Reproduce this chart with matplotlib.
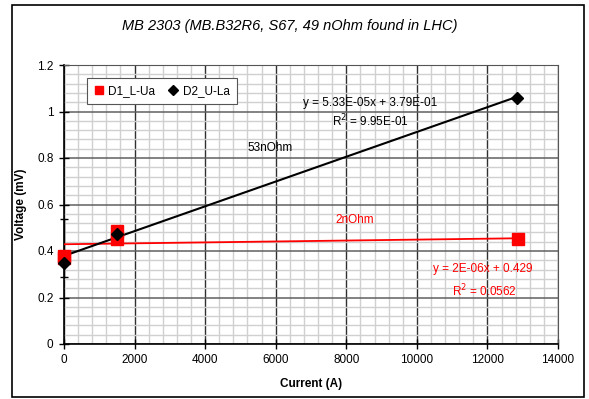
import numpy as np
import matplotlib
matplotlib.use("Agg")
import matplotlib.pyplot as plt
from matplotlib.patches import Rectangle
from matplotlib.ticker import MultipleLocator

plt.rcParams['font.family'] = ['Liberation Sans', 'DejaVu Sans']

# data
d1_x = [0, 0, 1500, 1500, 12880]
d1_y = [0.37, 0.38, 0.485, 0.45, 0.452]
d2_x = [0, 1500, 12850]
d2_y = [0.35, 0.475, 1.06]

# trendline coefficients as printed on the chart
d1_fit = (2e-06, 0.429)
d2_fit = (5.33e-05, 0.379)

# the small error bar on the axis at x = 0
err_x = [0]
err_y = [0.413]
err_half = [0.125]

title = "MB 2303 (MB.B32R6, S67, 49 nOhm found in LHC)"

fs = 8.5

fig = plt.figure(figsize=(5.89, 3.99), dpi=100)
ax = fig.add_axes([64/589, 1-344/399, 494/589, 279/399])

# frame round the whole chart
fig.patches.append(Rectangle((12/589, 2/399), 572/589, 392/399, transform=fig.transFigure,
                             fill=False, edgecolor='black', linewidth=1.2))

ax.set_xlim(0, 14000)
ax.set_ylim(0, 1.2)
ax.xaxis.set_major_locator(MultipleLocator(2000))
ax.xaxis.set_minor_locator(MultipleLocator(400))
ax.yaxis.set_minor_locator(MultipleLocator(0.04))
ax.set_yticks(np.arange(0, 1.21, 0.2))
ax.set_yticklabels(['0', '0.2', '0.4', '0.6', '0.8', '1', '1.2'])
ax.grid(which='minor', color='#d0d0d0', linewidth=1.0)
ax.grid(which='major', axis='y', color='#606060', linewidth=1.1)
ax.grid(which='major', axis='x', color='#303030', linewidth=1.0)
ax.set_axisbelow(True)
ax.tick_params(which='major', direction='inout', length=7, width=1, labelsize=fs, pad=4)
ax.tick_params(which='minor', length=0)
for side in ['top', 'right']:
    ax.spines[side].set_color('#555555')
for side in ['left', 'bottom']:
    ax.spines[side].set_color('black')
    ax.spines[side].set_linewidth(1.2)

# trendlines
xs = np.array([0, max(d1_x)])
ax.plot(xs, d1_fit[0]*xs + d1_fit[1], color='red', linewidth=1.3, zorder=3)
xs = np.array([0, max(d2_x)])
ax.plot(xs, d2_fit[0]*xs + d2_fit[1], color='black', linewidth=1.5, zorder=3)

ax.errorbar(err_x, err_y, yerr=err_half, fmt='none', ecolor='black', elinewidth=1,
            capsize=3, zorder=2, clip_on=False)

ax.plot(d1_x, d1_y, 's', color='red', markersize=8, label='D1_L-Ua', zorder=4, clip_on=False)
ax.plot(d2_x, d2_y, 'D', color='black', markersize=6.5, label='D2_U-La', zorder=5, clip_on=False)

leg = ax.legend(loc='upper left', bbox_to_anchor=(0.035, 0.975), ncol=2, fontsize=fs,
                frameon=True, fancybox=False, edgecolor='#555555', framealpha=1,
                handlelength=0.8, handletextpad=0.4, columnspacing=1.1, borderpad=0.6,
                markerscale=0.75)
leg.get_frame().set_linewidth(0.8)

ax.text(0.619, 0.864, 'y = 5.33E-05x + 3.79E-01', transform=ax.transAxes, ha='center', va='center', fontsize=fs)
ax.text(0.621, 0.799, 'R$^2$ = 9.95E-01', transform=ax.transAxes, ha='center', va='center', fontsize=fs)
ax.text(0.417, 0.703, '53nOhm', transform=ax.transAxes, ha='center', va='center', fontsize=fs)
ax.text(0.589, 0.444, '2nOhm', transform=ax.transAxes, ha='center', va='center', fontsize=fs, color='red')
ax.text(0.848, 0.269, 'y = 2E-06x + 0.429', transform=ax.transAxes, ha='center', va='center', fontsize=fs, color='red')
ax.text(0.852, 0.19, 'R$^2$ = 0.0562', transform=ax.transAxes, ha='center', va='center', fontsize=fs, color='red')

ax.set_xlabel('Current (A)', fontsize=fs, fontweight='bold', labelpad=8)
ax.set_ylabel('Voltage (mV)', fontsize=fs, fontweight='bold', labelpad=7)
fig.text(290/589, 1-26/399, title, ha='center', va='center', fontsize=10.5, style='italic')

fig.savefig('out.png', dpi=100)
